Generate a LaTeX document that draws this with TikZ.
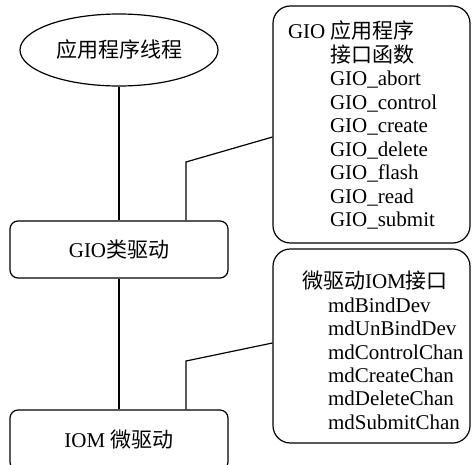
\documentclass[tikz,border=0pt]{standalone}
\usepackage{fontspec}
\setmainfont{Liberation Serif}
\newfontfamily\cjk{Noto Sans CJK SC}
\usetikzlibrary{shapes,positioning,calc}
\newcommand{\ind}[1]{\hspace*{#1}}

\begin{document}
\begin{tikzpicture}[x=0.75pt, y=-0.75pt, line width=0.9pt,
  every node/.style={font=\fontsize{15.75}{17.6}\selectfont},
  drvbox/.style={draw, rectangle, rounded corners=6pt, minimum width=163.5pt, inner sep=0pt},
  apibox/.style={draw, rectangle, rounded corners=13pt, minimum width=147.75pt, inner sep=0pt},
  apitext/.style={align=left, inner sep=0pt, anchor=north west}]
\useasboundingbox (0,0) rectangle (473,464);

% 线程
\node[draw, ellipse, minimum width=148.5pt, minimum height=54pt, inner sep=0pt] (thread) at (119,50) {\cjk 应用程序线程};

% 驱动层
\node[drvbox, minimum height=42.75pt] (giodrv) at (119,249.5) {GIO{\cjk 类驱动}};
\node[drvbox, minimum height=45pt] (iomdrv) at (119,440) {IOM {\cjk 微驱动}};

% 接口函数框
\node[apibox, minimum height=177.75pt] (gioapi) at (371.5,124.5) {};
\node[apibox, minimum height=145.5pt] (iomapi) at (371.5,346) {};

% 框内函数列表
\node[apitext] (giolist) at ($(gioapi.north west)+(15,15)$)
  {GIO {\cjk 应用程序}\\
   \ind{31.5pt}{\cjk 接口函数}\\
   \ind{31.5pt}GIO\_abort\\
   \ind{31.5pt}GIO\_control\\
   \ind{31.5pt}GIO\_create\\
   \ind{31.5pt}GIO\_delete\\
   \ind{31.5pt}GIO\_flash\\
   \ind{31.5pt}GIO\_read\\
   \ind{31.5pt}GIO\_submit};
\node[apitext] (iomlist) at ($(iomapi.north west)+(29,22)$)
  {{\cjk 微驱动}IOM{\cjk 接口}\\
   \ind{19.5pt}mdBindDev\\
   \ind{19.5pt}mdUnBindDev\\
   \ind{19.5pt}mdControlChan\\
   \ind{19.5pt}mdCreateChan\\
   \ind{19.5pt}mdDeleteChan\\
   \ind{19.5pt}mdSubmitChan};

% 连接
\coordinate (bend1) at (186,162);
\coordinate (bend2) at (186,361);
\draw (thread) -- (giodrv);
\draw (giodrv) -- (iomdrv);
\draw (giodrv.north -| bend1) -- (bend1) -- ([yshift=-9.4pt]gioapi.west);
\draw (iomdrv.north -| bend2) -- (bend2) -- ([yshift=2.25pt]iomapi.west);
\end{tikzpicture}
\end{document}
